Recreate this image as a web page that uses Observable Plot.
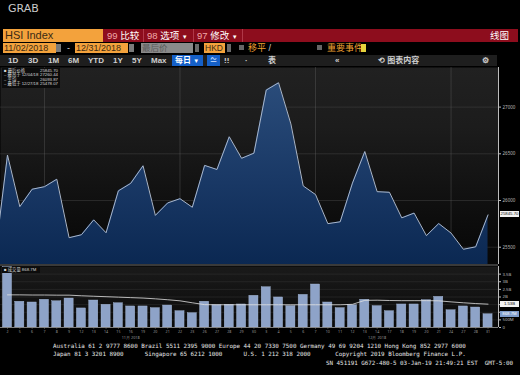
<!DOCTYPE html>
<html><head><meta charset="utf-8">
<script src="https://cdn.jsdelivr.net/npm/d3@7"></script>
<script src="https://cdn.jsdelivr.net/npm/@observablehq/plot@0.6"></script>
<style>
body{margin:0;background:#000;}
#page{position:relative;width:520px;height:375px;overflow:hidden;background:#000;font-family:"Liberation Sans","Noto Sans CJK SC",sans-serif;}
.a{position:absolute;white-space:nowrap;}
.cjk{font-family:"Liberation Sans","Noto Sans CJK SC",sans-serif;}
.tb{font-size:8px;font-weight:bold;color:#cfcfcf;top:55px;line-height:11px;}
.foot{font-family:"DejaVu Sans Mono",monospace;font-size:5.87px;color:#e6e6e6;line-height:7px;white-space:pre;}
.leg{font-size:4.3px;color:#d8d8d8;line-height:4.4px;display:flex;justify-content:space-between;width:54px;}
</style></head><body><div id="page">

<div class="a" style="left:8px;top:2px;font-size:11px;color:#c9c9c9;font-family:'DejaVu Sans';">GRAB</div>

<!-- row 1 -->
<div class="a" style="left:3px;top:29px;width:100px;height:13px;background:#f3a23c"></div>
<div class="a" style="left:103px;top:29px;width:415px;height:13px;background:#8d0d1d"></div>
<div class="a" style="left:5px;top:29px;line-height:13px;font-size:11px;color:#3b2a14">HSI Index</div>
<div class="a" style="left:143px;top:29px;width:1px;height:13px;background:#b03848"></div>
<div class="a" style="left:193px;top:29px;width:1px;height:13px;background:#b03848"></div>
<div class="a" style="left:242px;top:29px;width:1px;height:13px;background:#b03848"></div>
<div class="a cjk" style="left:107px;top:29px;line-height:13px;font-size:9.5px;color:#fff"><span style="color:#f2a8a8">99</span> 比较</div>
<div class="a cjk" style="left:147px;top:29px;line-height:13px;font-size:9.5px;color:#fff"><span style="color:#f2a8a8">98</span> 选项 <span style="font-size:6px">▼</span></div>
<div class="a cjk" style="left:197px;top:29px;line-height:13px;font-size:9.5px;color:#fff"><span style="color:#f2a8a8">97</span> 修改 <span style="font-size:6px">▼</span></div>
<div class="a cjk" style="left:490px;top:29px;line-height:13px;font-size:9.5px;color:#fff">线图</div>

<!-- row 2 -->
<div class="a" style="left:3px;top:43px;width:52px;height:10px;background:#f3a23c;font-size:9px;line-height:10px;color:#3b2a14;padding-left:1px">11/02/2018</div>
<div class="a" style="left:56px;top:44px;width:5px;height:8px;background:#7a7a7a"></div>
<div class="a" style="left:67px;top:43px;font-size:9px;line-height:10px;color:#ddd">-</div>
<div class="a" style="left:75px;top:43px;width:52px;height:10px;background:#f3a23c;font-size:9px;line-height:10px;color:#3b2a14;padding-left:1px">12/31/2018</div>
<div class="a" style="left:129px;top:44px;width:5px;height:8px;background:#7a7a7a"></div>
<div class="a cjk" style="left:141px;top:43px;width:51px;height:10px;background:#8a8a8a;font-size:8.5px;line-height:10px;color:#5a5a5a;padding-left:1px">最后价</div>
<div class="a" style="left:195px;top:44px;width:4px;height:8px;background:#6a6a6a"></div>
<div class="a" style="left:204px;top:43px;width:20px;height:10px;background:#f3a23c;font-size:8.5px;line-height:10px;color:#3b2a14;padding-left:1px">HKD</div>
<div class="a" style="left:227px;top:44px;width:4px;height:8px;background:#6a6a6a"></div>
<div class="a" style="left:239px;top:45px;width:5px;height:5px;background:#666"></div>
<div class="a cjk" style="left:248px;top:43px;font-size:9px;line-height:10px;color:#f0a030">移平 <span style="color:#ccc">/</span></div>
<div class="a" style="left:317px;top:45px;width:5px;height:5px;background:#666"></div>
<div class="a cjk" style="left:327px;top:43px;font-size:9px;line-height:10px;color:#f0a030">重要事件</div>
<div class="a" style="left:361px;top:44px;width:5px;height:8px;background:#e6d23c"></div>

<!-- row 3 -->
<div class="a" style="left:0px;top:55px;width:497px;height:11px;background:#1e1e1e"></div>
<div class="a tb" style="left:8px">1D</div>
<div class="a tb" style="left:28px">3D</div>
<div class="a tb" style="left:48px">1M</div>
<div class="a tb" style="left:68px">6M</div>
<div class="a tb" style="left:88px">YTD</div>
<div class="a tb" style="left:113px">1Y</div>
<div class="a tb" style="left:132px">5Y</div>
<div class="a tb" style="left:151px">Max</div>
<div class="a tb cjk" style="left:172px;width:31px;height:11px;background:#1560c8;color:#fff;padding-left:3px;box-sizing:border-box">每日 <span style="font-size:6px">▼</span></div>
<div class="a tb" style="left:207px;width:13px;height:11px;background:#1560c8;color:#cfe0ff;text-align:center">≃</div>
<div class="a tb" style="left:224px">⁞⁞</div>
<div class="a tb" style="left:245px">·</div>
<div class="a tb cjk" style="left:268px">表</div>
<div class="a tb" style="left:335px">«</div>
<div class="a tb cjk" style="left:378px">⟲ 图表内容</div>
<div class="a tb" style="left:482px">⚙</div>

<div id="pricebox" class="a" style="left:0;top:64px"></div>
<div class="a" style="left:0;top:264px;width:498px;height:2px;background:#3a3a3a"></div>
<div id="volbox" class="a" style="left:0;top:265px"></div>

<!-- legend price -->
<div class="a" style="left:2px;top:68px;width:58px;height:20px;background:#0c0c0c;padding:1px 2px;box-sizing:border-box">
  <div class="leg cjk"><span>■ 最后价格</span><span>25845.70</span></div>
  <div class="leg cjk"><span>– 最高于 12/04/18</span><span>27260.44</span></div>
  <div class="leg cjk"><span>– 平均</span><span>26093.87</span></div>
  <div class="leg cjk"><span>– 最低于 12/27/18</span><span>25478.07</span></div>
</div>
<div class="a cjk" style="left:2px;top:267px;width:38px;height:6px;background:#0c0c0c;font-size:4.3px;line-height:6px;color:#d8d8d8;padding-left:2px;box-sizing:border-box">■ 成交量 868.7M</div>

<div id="lastPrice" class="a" style="left:500px;width:19px;height:6px;background:#f2f2f2;color:#111;font-size:4.3px;line-height:6px;text-align:center"></div>
<div id="lastMA" class="a" style="left:500px;width:19px;height:6px;background:#f2f2f2;color:#111;font-size:4.3px;line-height:6px;text-align:center"></div>
<div id="lastVol" class="a" style="left:500px;width:19px;height:6px;background:#7f9cca;color:#fff;font-size:4.3px;line-height:6px;text-align:center"></div>

<div class="a foot" style="left:53px;top:343px">Australia 61 2 9777 8600 Brazil 5511 2395 9000 Europe 44 20 7330 7500 Germany 49 69 9204 1210 Hong Kong 852 2977 6000</div>
<div class="a foot" style="left:53px;top:351px">Japan 81 3 3201 8900      Singapore 65 6212 1000      U.S. 1 212 318 2000       Copyright 2019 Bloomberg Finance L.P.</div>
<div class="a foot" style="left:326px;top:360px">SN 451191 G672-480-5 03-Jan-19 21:49:21 EST  GMT-5:00</div>

</div>
<script>
// ---- data ----
const tradeDays = ["2018-11-01","2018-11-02","2018-11-05","2018-11-06","2018-11-07","2018-11-08","2018-11-09",
  "2018-11-12","2018-11-13","2018-11-14","2018-11-15","2018-11-16","2018-11-19","2018-11-20","2018-11-21",
  "2018-11-22","2018-11-23","2018-11-26","2018-11-27","2018-11-28","2018-11-29","2018-11-30",
  "2018-12-03","2018-12-04","2018-12-05","2018-12-06","2018-12-07","2018-12-10","2018-12-11","2018-12-12",
  "2018-12-13","2018-12-14","2018-12-17","2018-12-18","2018-12-19","2018-12-20","2018-12-21","2018-12-24",
  "2018-12-27","2018-12-28","2018-12-31"];
const closes = [25416.00,26486.35,25934.35,26120.96,26147.85,26227.72,25601.92,
  25633.18,25792.87,25654.42,26103.34,26183.53,26372.03,25840.66,25974.04,
  26019.41,25927.68,26376.15,26331.99,26682.58,26451.86,26506.75,
  27182.04,27260.44,26819.68,26156.38,26063.76,25752.38,25771.94,26186.71,
  26524.35,26094.79,26087.98,25814.25,25865.39,25623.55,25753.42,25651.38,
  25478.07,25504.20,25845.70];
// volume (billions of shares) from 11/02 to 12/31
const volumes = [3.95,1.69,1.64,1.82,1.72,1.90,1.25,1.77,1.49,1.59,1.38,1.38,1.27,1.44,1.07,0.94,
  1.69,1.46,1.49,1.51,2.08,2.64,1.97,1.40,2.14,2.82,1.64,1.27,1.46,1.82,1.40,1.07,1.51,1.51,
  1.79,2.01,1.13,1.38,1.31,0.87];
const volMA = [2.14,2.14,2.13,2.13,2.12,2.12,2.08,2.05,2.02,1.99,1.96,1.93,1.88,1.82,1.75,1.62,
  1.50,1.49,1.49,1.49,1.49,1.49,1.49,1.49,1.49,1.49,1.49,1.49,1.52,1.78,1.79,1.77,1.76,1.76,
  1.76,1.75,1.68,1.62,1.57,1.53];
const priceTicks = [25500, 26000, 26500, 27000];
const volTicks = [0, 0.5, 1, 1.5, 2, 2.5, 3, 3.5];
const volHiddenLabels = [1, 1.5]; // covered by the value boxes in the original
const gridDays = ["2018-11-07","2018-11-22","2018-12-07","2018-12-24"];
const months = [{label:"11月 2018", mid:"2018-11-16"},{label:"12月 2018", mid:"2018-12-14"}];
const lastLabels = {price:"25845.70", ma:"1.53B", vol:"868.7M"};

// ---- tables ----
const priceData = tradeDays.map((d,i)=>({i, date:d, close:closes[i]}));
const volData = volumes.map((v,k)=>({i:k+1, v, ma:volMA[k]}));
const gridIdx = gridDays.map(d=>tradeDays.indexOf(d));
const monthData = months.map(m=>({i:tradeDays.indexOf(m.mid), label:m.label}));
const X_DOMAIN = [0.432, 40.85];
const Y_DOMAIN = [25315, 27424];
const fmtVol = v => volHiddenLabels.includes(v) ? "" : v===0 ? "0" : v<1 ? (v*1000)+"M" : v+"B";

const price = Plot.plot({
  width: 520, height: 202, marginLeft: 0, marginRight: 22, marginTop: 3, marginBottom: 2,
  style: {background:"transparent", overflow:"visible"},
  x: {domain: X_DOMAIN, axis: null},
  y: {domain: Y_DOMAIN, axis: null},
  marks: [
    Plot.frame({fill:"url(#bgGrad)", stroke:"none"}),
    Plot.gridY(priceTicks, {stroke:"#5a5a5a", strokeOpacity:0.35}),
    Plot.gridX(gridIdx, {stroke:"#6a6a6a", strokeOpacity:0.35}),
    Plot.areaY(priceData, {x:"i", y1:Y_DOMAIN[0], y2:"close", fill:"url(#areaGrad)", clip:true}),
    Plot.lineY(priceData, {x:"i", y:"close", stroke:"#aab7cb", strokeWidth:1, clip:true}),
    Plot.ruleX([X_DOMAIN[1]], {stroke:"#bdbdbd", strokeWidth:1}),
    Plot.axisY(priceTicks, {anchor:"right", label:null, tickSize:2, tickPadding:2, fontSize:4.5, fill:"#bbb", stroke:"#bbb", tickFormat:d=>String(d)})
  ]
});
d3.select(price).insert("defs", ":first-child").html(`
  <linearGradient id="bgGrad" x1="0" y1="0" x2="0" y2="1">
    <stop offset="0" stop-color="#212121"/><stop offset="0.3" stop-color="#1c1c1c"/>
    <stop offset="0.55" stop-color="#141414"/><stop offset="0.8" stop-color="#0c0c0c"/>
    <stop offset="1" stop-color="#070707"/></linearGradient>
  <linearGradient id="areaGrad" x1="0" y1="0" x2="0" y2="1">
    <stop offset="0" stop-color="#2a4c7a"/><stop offset="0.55" stop-color="#193865"/>
    <stop offset="1" stop-color="#0b2852"/></linearGradient>`);
document.getElementById("pricebox").appendChild(price);

const vol = Plot.plot({
  width: 520, height: 76, marginLeft: 0, marginRight: 22, marginTop: 1, marginBottom: 14,
  style: {background:"transparent", overflow:"visible"},
  x: {domain: X_DOMAIN, axis: null},
  y: {domain: [0, 4], axis: null},
  marks: [
    Plot.frame({fill:"url(#volBg)", stroke:"none"}),
    Plot.gridY(volTicks, {stroke:"#4a4a4a", strokeOpacity:0.3}),
    Plot.rectY(volData, {x1:d=>d.i-0.5, x2:d=>d.i+0.5, y:"v", insetLeft:1.6, insetRight:1.6, fill:"#8ea3c8", stroke:"#a9bbd8", strokeWidth:0.4, clip:true}),
    Plot.lineY(volData, {x:"i", y:"ma", stroke:"#e2e2e2", strokeWidth:0.8}),
    Plot.ruleX([X_DOMAIN[1]], {stroke:"#bdbdbd"}),
    Plot.ruleY([0], {stroke:"#9a9a9a", strokeWidth:0.8}),
    Plot.axisY(volTicks, {anchor:"right", label:null, tickSize:2, tickPadding:2, fontSize:4.3, fill:"#bbb", stroke:"#bbb", tickFormat:fmtVol}),
    Plot.axisX(volData.map(d=>d.i), {anchor:"bottom", label:null, tickSize:1.5, tickPadding:1, fontSize:3.6, fill:"#999", stroke:"#888", tickFormat:i=>String(+tradeDays[i].slice(8))}),
    Plot.text(monthData, {x:"i", text:"label", frameAnchor:"bottom", dy:11.5, fontSize:3.8, fill:"#999"})
  ]
});
d3.select(vol).insert("defs", ":first-child").html(`
  <linearGradient id="volBg" x1="0" y1="0" x2="0" y2="1">
    <stop offset="0" stop-color="#1a1a1a"/><stop offset="1" stop-color="#0a0a0a"/></linearGradient>`);
document.getElementById("volbox").appendChild(vol);

// value boxes positioned with the plots' own scales
const yP = price.scale("y"), yV = vol.scale("y");
const lp = document.getElementById("lastPrice");
lp.textContent = lastLabels.price; lp.style.top = (64 + yP.apply(closes[closes.length-1]) - 3) + "px";
const lm = document.getElementById("lastMA");
lm.textContent = lastLabels.ma; lm.style.top = (265 + yV.apply(volMA[volMA.length-1]) - 3) + "px";
const lv = document.getElementById("lastVol");
lv.textContent = lastLabels.vol; lv.style.top = (265 + yV.apply(volumes[volumes.length-1]) - 3) + "px";
</script>
</body></html>
